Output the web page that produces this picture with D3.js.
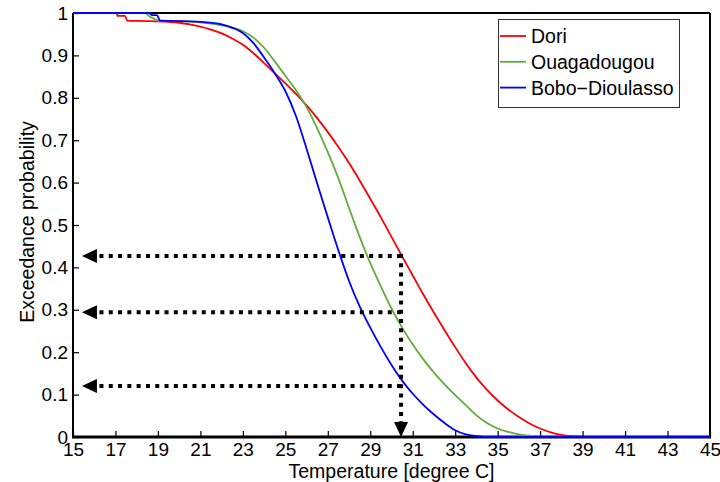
<!DOCTYPE html>
<html>
<head>
<meta charset="utf-8">
<script src="https://cdn.jsdelivr.net/npm/d3@7"></script>
<style>
  html, body { margin: 0; padding: 0; background: #fff; }
  svg { display: block; font-family: "Liberation Sans", Arial, Helvetica, sans-serif; }
</style>
</head>
<body>
<svg id="chart" width="720" height="482"></svg>
<script>
// ---- data ----
const seriesNames = ["Dori", "Ouagadougou", "Bobo\u2212Dioulasso"];
const seriesColors = ["#ff0000", "#5fad3b", "#0000ff"];

const doriT = [15, 17.05, 17.1, 17.45, 17.55, 18.5, 19.5, 20, 20.5, 21, 21.5, 22, 22.5, 23, 23.5, 24, 24.5, 25, 25.5, 26, 26.5, 27, 27.5, 28, 28.5, 29, 29.5, 30, 30.5, 31, 31.5, 32, 32.5, 33, 33.5, 34, 34.5, 35, 35.5, 36, 36.5, 37, 37.5, 38, 38.5, 39, 39.5, 45];
const doriP = [1, 1, 0.993, 0.993, 0.982, 0.981, 0.979, 0.977, 0.973, 0.968, 0.961, 0.952, 0.940, 0.925, 0.905, 0.882, 0.858, 0.834, 0.809, 0.782, 0.752, 0.719, 0.684, 0.646, 0.605, 0.562, 0.518, 0.472, 0.426, 0.381, 0.336, 0.293, 0.252, 0.212, 0.174, 0.140, 0.111, 0.086, 0.065, 0.047, 0.032, 0.020, 0.011, 0.005, 0.002, 0.0005, 0, 0];

const ouagaT = [15, 18.4, 18.6, 18.8, 19.0, 20, 21, 22, 22.5, 23, 23.5, 24, 24.5, 25, 25.5, 26, 26.5, 27, 27.5, 28, 28.5, 29, 29.5, 30, 30.5, 31, 31.5, 32, 32.5, 33, 33.5, 34, 34.5, 35, 35.5, 36, 36.5, 37, 37.5, 45];
const ouagaP = [1, 1, 0.992, 0.987, 0.982, 0.981, 0.978, 0.971, 0.966, 0.957, 0.942, 0.918, 0.886, 0.852, 0.818, 0.778, 0.728, 0.672, 0.610, 0.540, 0.472, 0.410, 0.355, 0.303, 0.258, 0.218, 0.183, 0.152, 0.124, 0.099, 0.075, 0.051, 0.033, 0.020, 0.012, 0.006, 0.003, 0.001, 0, 0];

const boboT = [15, 18.6, 18.7, 18.95, 19.1, 20, 21, 22, 22.5, 23, 23.5, 24, 24.5, 25, 25.5, 26, 26.5, 27, 27.5, 28, 28.5, 29, 29.5, 30, 30.5, 31, 31.5, 32, 32.5, 33, 33.5, 34, 34.5, 45];
const boboP = [1, 1, 0.995, 0.995, 0.982, 0.981, 0.979, 0.973, 0.965, 0.953, 0.929, 0.895, 0.858, 0.816, 0.757, 0.680, 0.598, 0.518, 0.440, 0.368, 0.308, 0.258, 0.212, 0.170, 0.133, 0.102, 0.076, 0.053, 0.033, 0.016, 0.006, 0.002, 0, 0];

const xTicks = [15, 17, 19, 21, 23, 25, 27, 29, 31, 33, 35, 37, 39, 41, 43, 45];
const yTicks = [0, 0.1, 0.2, 0.3, 0.4, 0.5, 0.6, 0.7, 0.8, 0.9, 1];
const yTickLabels = ["0", "0.1", "0.2", "0.3", "0.4", "0.5", "0.6", "0.7", "0.8", "0.9", "1"];

// dotted reading lines
const readT = 30.45;
const readP = [0.427, 0.294, 0.12];
const arrowTipT = 15.42;

const xLabel = "Temperature [degree C]";
const yLabel = "Exceedance probability";

// ---- layout ----
const W = 720, H = 482;
const margin = { left: 73, right: 10, top: 13, bottom: 45 };
const x = d3.scaleLinear().domain([15, 45]).range([margin.left, W - margin.right]);
const y = d3.scaleLinear().domain([0, 1]).range([H - margin.bottom, margin.top]);
const FS = 19.5;
const TFS = 19;

const svg = d3.select("#chart");
const g = svg.append("g");

// axes
const xAxis = d3.axisBottom(x).tickValues(xTicks).tickSize(-6).tickPadding(6).tickFormat(d3.format("d"));
const yAxis = d3.axisLeft(y).tickValues(yTicks).tickSize(-6).tickPadding(5).tickFormat((d, i) => yTickLabels[i]);

const gx = g.append("g").attr("transform", `translate(0,${y(0)})`).call(xAxis);
const gy = g.append("g").attr("transform", `translate(${x(15)},0)`).call(yAxis);
[gx, gy].forEach(a => {
  a.selectAll("text").attr("font-size", TFS).attr("fill", "#000").attr("font-family", "Liberation Sans, Arial, sans-serif");
  a.selectAll(".tick line").attr("stroke", "#000").attr("stroke-width", 1.2);
});
gx.select(".domain").remove();
gy.select(".domain").remove();
gx.selectAll("text").attr("y", 6).attr("dy", "0.71em");

// box
g.append("line").attr("x1", x(15)).attr("x2", x(45)).attr("y1", y(1)).attr("y2", y(1)).attr("stroke", "#000").attr("stroke-width", 2);
g.append("line").attr("x1", x(45)).attr("x2", x(45)).attr("y1", y(1)).attr("y2", y(0)).attr("stroke", "#000").attr("stroke-width", 2);
g.append("line").attr("x1", x(15)).attr("x2", x(15)).attr("y1", y(1)).attr("y2", y(0)).attr("stroke", "#000").attr("stroke-width", 2);
g.append("line").attr("x1", x(15) - 1).attr("x2", x(45) + 1).attr("y1", y(0)).attr("y2", y(0)).attr("stroke", "#000").attr("stroke-width", 3);

// curves
const series = [
  { t: doriT, p: doriP },
  { t: ouagaT, p: ouagaP },
  { t: boboT, p: boboP }
];
const line = d3.line().x(d => x(d[0])).y(d => y(d[1])).curve(d3.curveMonotoneX);
series.forEach((s, i) => {
  const pts = s.t.map((t, k) => [t, s.p[k]]);
  g.append("path").datum(pts).attr("d", line)
    .attr("fill", "none").attr("stroke", seriesColors[i]).attr("stroke-width", 1.8);
});

// dotted reading lines with arrows
const dotted = g.append("g");
const hl = 15, hw = 7;
readP.forEach(p => {
  dotted.append("line")
    .attr("x1", x(readT)).attr("x2", x(arrowTipT) + hl)
    .attr("y1", y(p)).attr("y2", y(p))
    .attr("stroke", "#000").attr("stroke-width", 4).attr("stroke-dasharray", "4,5.3");
  const tx = x(arrowTipT), ty = y(p);
  dotted.append("path")
    .attr("d", `M${tx},${ty} L${tx + hl},${ty - hw} L${tx + hl},${ty + hw} Z`)
    .attr("fill", "#000");
});
dotted.append("line")
  .attr("x1", x(readT)).attr("x2", x(readT))
  .attr("y1", y(readP[0]) - 2).attr("y2", y(0) - hl)
  .attr("stroke", "#000").attr("stroke-width", 4).attr("stroke-dasharray", "4,5.3");
{
  const tx = x(readT), ty = y(0);
  dotted.append("path")
    .attr("d", `M${tx},${ty} L${tx - hw},${ty - hl} L${tx + hw},${ty - hl} Z`)
    .attr("fill", "#000");
}

// legend
const lg = g.append("g");
lg.append("rect").attr("x", 498.5).attr("y", 19.5).attr("width", 181).attr("height", 88)
  .attr("fill", "#fff").attr("stroke", "#333").attr("stroke-width", 1);
seriesNames.forEach((n, i) => {
  const cy = 36 + i * 25.8;
  lg.append("line").attr("x1", 500).attr("x2", 526).attr("y1", cy).attr("y2", cy)
    .attr("stroke", seriesColors[i]).attr("stroke-width", 1.8);
  lg.append("text").attr("x", 531).attr("y", cy).attr("dy", "0.36em")
    .attr("font-size", FS).attr("fill", "#000").text(n);
});

// axis labels
g.append("text").attr("x", (x(15) + x(45)) / 2).attr("y", 478).attr("text-anchor", "middle")
  .attr("font-size", FS).attr("fill", "#000").text(xLabel);
g.append("text").attr("transform", `translate(34,${(y(0) + y(1)) / 2 - 3}) rotate(-90)`)
  .attr("text-anchor", "middle").attr("font-size", FS).attr("fill", "#000").text(yLabel);
</script>
</body>
</html>
